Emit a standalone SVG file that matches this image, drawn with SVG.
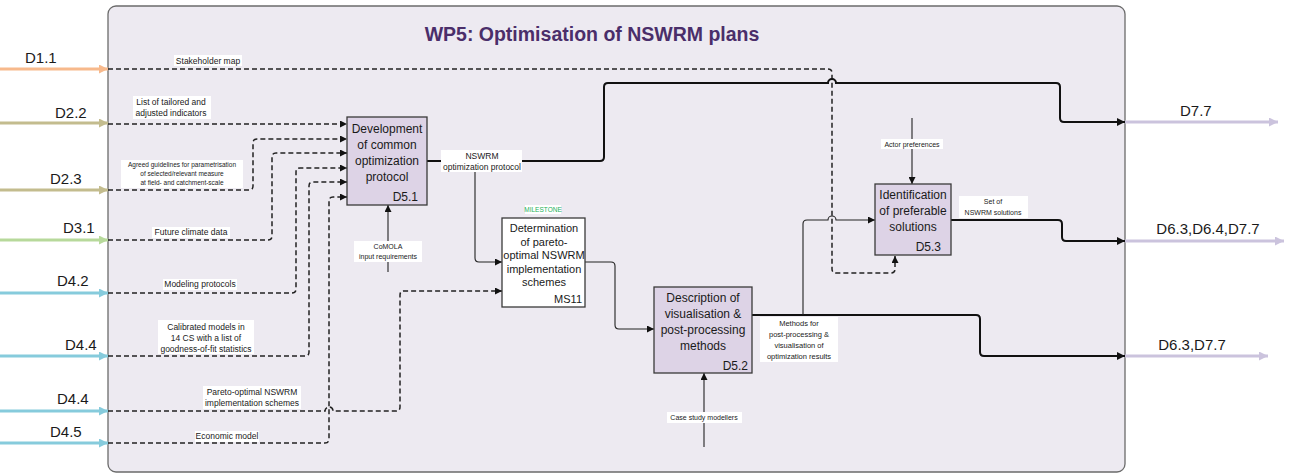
<svg xmlns="http://www.w3.org/2000/svg" width="1290" height="474" viewBox="0 0 1290 474">
  <style>
    .frame { fill: #edeaf1; stroke: #6b6b6b; stroke-width: 1.3; }
    .title { font-family: "Liberation Sans", Arial, sans-serif; font-weight: bold; font-size: 19.5px; fill: #4a2e6a; }
    .task { fill: #ddd3e6; stroke: #3a3a3a; stroke-width: 1.3; }
    .ms { fill: #ffffff; stroke: #3a3a3a; stroke-width: 1.3; }
    .bt { font-family: "Liberation Sans", Arial, sans-serif; font-size: 12px; fill: #1a1a1a; text-anchor: middle; }
    .mt { font-family: "Liberation Sans", Arial, sans-serif; font-size: 11px; fill: #1a1a1a; text-anchor: middle; }
    .id { font-family: "Liberation Sans", Arial, sans-serif; font-size: 12px; fill: #1a1a1a; text-anchor: end; }
    .dl { font-family: "Liberation Sans", Arial, sans-serif; font-size: 15px; fill: #1a1a1a; }
    .lb { font-family: "Liberation Sans", Arial, sans-serif; font-size: 8.5px; fill: #1a1a1a; text-anchor: middle; }
    .lbs { font-family: "Liberation Sans", Arial, sans-serif; font-size: 7px; fill: #1a1a1a; text-anchor: middle; }
    .lbm { font-family: "Liberation Sans", Arial, sans-serif; font-size: 7.5px; fill: #1a1a1a; text-anchor: middle; }
    .lbxs { font-family: "Liberation Sans", Arial, sans-serif; font-size: 6.5px; fill: #1a1a1a; text-anchor: middle; }
    .mile { font-family: "Liberation Sans", Arial, sans-serif; font-size: 6.5px; fill: #22b15a; text-anchor: middle; }
    .bg { fill: #ffffff; }
    .dash { fill: none; stroke: #222; stroke-width: 1.5; stroke-dasharray: 5 3; marker-end: url(#ah); }
    .flow { fill: none; stroke: #222; stroke-width: 1.1; marker-end: url(#ah); }
    .flowb { fill: none; stroke: #111; stroke-width: 2; marker-end: url(#ahb); }
    .in { fill: none; stroke-width: 3; }
  </style>
  <defs>
    <marker id="ah" viewBox="0 0 10 10" refX="10" refY="5" markerWidth="7" markerHeight="7" markerUnits="userSpaceOnUse" orient="auto">
      <path d="M0,0 L10,5 L0,10 z" fill="#111"/>
    </marker>
    <marker id="ahb" viewBox="0 0 10 10" refX="10" refY="5" markerWidth="8" markerHeight="8" markerUnits="userSpaceOnUse" orient="auto">
      <path d="M0,0 L10,5 L0,10 z" fill="#111"/>
    </marker>
    <marker id="a-peach" viewBox="0 0 10 10" refX="10" refY="5" markerWidth="11" markerHeight="9" markerUnits="userSpaceOnUse" orient="auto">
      <path d="M0,0 L10,5 L0,10 z" fill="#f7b98c"/>
    </marker>
    <marker id="a-khaki" viewBox="0 0 10 10" refX="10" refY="5" markerWidth="11" markerHeight="9" markerUnits="userSpaceOnUse" orient="auto">
      <path d="M0,0 L10,5 L0,10 z" fill="#c3bc8e"/>
    </marker>
    <marker id="a-green" viewBox="0 0 10 10" refX="10" refY="5" markerWidth="11" markerHeight="9" markerUnits="userSpaceOnUse" orient="auto">
      <path d="M0,0 L10,5 L0,10 z" fill="#b7d99b"/>
    </marker>
    <marker id="a-blue" viewBox="0 0 10 10" refX="10" refY="5" markerWidth="11" markerHeight="9" markerUnits="userSpaceOnUse" orient="auto">
      <path d="M0,0 L10,5 L0,10 z" fill="#86cbdc"/>
    </marker>
    <marker id="a-out" viewBox="0 0 10 10" refX="10" refY="5" markerWidth="11" markerHeight="9" markerUnits="userSpaceOnUse" orient="auto">
      <path d="M0,0 L10,5 L0,10 z" fill="#cbc3dd"/>
    </marker>
  </defs>

  <rect width="1290" height="474" fill="#ffffff"/>

  <!-- work package frame -->
  <g id="wp5">
    <rect class="frame" x="108" y="6" width="1017" height="466" rx="8"/>
    <text class="title" x="592" y="41" text-anchor="middle">WP5: Optimisation of NSWRM plans</text>
  </g>

  <!-- incoming deliverables -->
  <g id="inputs">
    <path class="in" d="M0,69 H108" stroke="#f7b98c" marker-end="url(#a-peach)"/>
    <path class="in" d="M0,123 H108" stroke="#c3bc8e" marker-end="url(#a-khaki)"/>
    <path class="in" d="M0,190 H108" stroke="#c3bc8e" marker-end="url(#a-khaki)"/>
    <path class="in" d="M0,240 H108" stroke="#b7d99b" marker-end="url(#a-green)"/>
    <path class="in" d="M0,293 H108" stroke="#86cbdc" marker-end="url(#a-blue)"/>
    <path class="in" d="M0,356 H108" stroke="#86cbdc" marker-end="url(#a-blue)"/>
    <path class="in" d="M0,411 H108" stroke="#86cbdc" marker-end="url(#a-blue)"/>
    <path class="in" d="M0,443 H108" stroke="#86cbdc" marker-end="url(#a-blue)"/>
    <text class="dl" x="25" y="63">D1.1</text>
    <text class="dl" x="55" y="118">D2.2</text>
    <text class="dl" x="50" y="184">D2.3</text>
    <text class="dl" x="63" y="233">D3.1</text>
    <text class="dl" x="57" y="286">D4.2</text>
    <text class="dl" x="65" y="350">D4.4</text>
    <text class="dl" x="57" y="404">D4.4</text>
    <text class="dl" x="50" y="437">D4.5</text>
  </g>

  <!-- outgoing deliverables -->
  <g id="outputs">
    <path class="in" d="M1125,122 H1278" stroke="#cbc3dd" marker-end="url(#a-out)"/>
    <path class="in" d="M1125,241 H1284" stroke="#cbc3dd" marker-end="url(#a-out)"/>
    <path class="in" d="M1125,356 H1268" stroke="#cbc3dd" marker-end="url(#a-out)"/>
    <text class="dl" x="1180" y="116">D7.7</text>
    <text class="dl" x="1208" y="234" text-anchor="middle">D6.3,D6.4,D7.7</text>
    <text class="dl" x="1192" y="350" text-anchor="middle">D6.3,D7.7</text>
  </g>

  <!-- connectors -->
  <g id="connectors">
    <!-- dashed inputs -->
    <path class="dash" d="M108,69 H828 Q832,69 832,73 V269 Q832,273 836,273 H891 Q895,273 895,269 V256"/>
    <path class="dash" d="M108,124 H347"/>
    <path class="dash" d="M108,190 H249 Q253,190 253,186 V143 Q253,139 257,139 H347"/>
    <path class="dash" d="M108,240 H268 Q272,240 272,236 V157 Q272,153 276,153 H347"/>
    <path class="dash" d="M108,293 H292 Q296,293 296,289 V172 Q296,168 300,168 H347"/>
    <path class="dash" d="M108,356 H305 Q309,356 309,352 V186 Q309,182 313,182 H347"/>
    <path class="dash" d="M108,443 H325 Q329,443 329,439 V201 Q329,197 333,197 H347"/>
    <path class="dash" d="M108,411 H325 A4,4 0 0 1 333,411 H396 Q400,411 400,407 V295 Q400,291 404,291 H502"/>

    <!-- D5.1 outputs -->
    <path class="flowb" d="M427,161 H600 Q604,161 604,157 V87 Q604,83 608,83 H828 A4,4 0 0 1 836,83 H1056 Q1060,83 1060,87 V118 Q1060,122 1064,122 H1125"/>
    <path class="flow" d="M475,161 V258 Q475,262 479,262 H502"/>

    <!-- MS11 to D5.2 -->
    <path class="flow" d="M585,262 H611 Q615,262 615,266 V325 Q615,329 619,329 H654"/>

    <!-- D5.2 outputs -->
    <path class="flowb" d="M752,315 H976 Q980,315 980,319 V352 Q980,356 984,356 H1125"/>
    <path class="flow" d="M803,315 V224 Q803,220 807,220 H828 A4,4 0 0 1 836,220 H875"/>

    <!-- D5.3 output -->
    <path class="flowb" d="M951,220 H1058 Q1062,220 1062,224 V237 Q1062,241 1066,241 H1125"/>

    <!-- controls / mechanisms -->
    <path class="flow" d="M912,118 V184"/>
    <path class="flow" d="M388,272 V205"/>
    <path class="flow" d="M704,447 V373"/>
  </g>

  <!-- connector labels -->
  <g id="labels">
    <rect class="bg" x="174" y="55" width="68" height="11"/>
    <text class="lb" x="208" y="64">Stakeholder map</text>

    <rect class="bg" x="133" y="96" width="78" height="23"/>
    <text class="lb" x="171" y="105">List of tailored and</text>
    <text class="lb" x="171" y="116">adjusted indicators</text>

    <rect class="bg" x="121" y="160" width="122" height="28"/>
    <text class="lbxs" x="182" y="167">Agreed guidelines for parametrisation</text>
    <text class="lbxs" x="182" y="176">of selected/relevant measure</text>
    <text class="lbxs" x="182" y="185">at field- and catchment-scale</text>

    <rect class="bg" x="152" y="227" width="78" height="11"/>
    <text class="lb" x="191" y="235">Future climate data</text>

    <rect class="bg" x="163" y="279" width="74" height="11"/>
    <text class="lb" x="200" y="287">Modeling protocols</text>

    <rect class="bg" x="158" y="320" width="96" height="34"/>
    <text class="lb" x="206" y="330">Calibrated models in</text>
    <text class="lb" x="206" y="341">14 CS with a list of</text>
    <text class="lb" x="206" y="352">goodness-of-fit statistics</text>

    <rect class="bg" x="203" y="386" width="98" height="23"/>
    <text class="lb" x="252" y="395">Pareto-optimal NSWRM</text>
    <text class="lb" x="252" y="406">implementation schemes</text>

    <rect class="bg" x="195" y="431" width="64" height="11"/>
    <text class="lb" x="227" y="439">Economic model</text>

    <rect class="bg" x="441" y="150" width="81" height="22"/>
    <text class="lb" x="482" y="159">NSWRM</text>
    <text class="lb" x="482" y="170">optimization protocol</text>

    <rect class="bg" x="354" y="241" width="68" height="21"/>
    <text class="lbs" x="388" y="249">CoMOLA</text>
    <text class="lbs" x="388" y="259">input requirements</text>

    <rect class="bg" x="881" y="139" width="62" height="10"/>
    <text class="lbs" x="912" y="146.5">Actor preferences</text>

    <rect class="bg" x="959" y="196" width="69" height="22"/>
    <text class="lbs" x="993" y="204">Set of</text>
    <text class="lbs" x="993" y="215">NSWRM solutions</text>

    <rect class="bg" x="760" y="317" width="78" height="45"/>
    <text class="lbm" x="799" y="326">Methods for</text>
    <text class="lbm" x="799" y="337">post-processing &amp;</text>
    <text class="lbm" x="799" y="348">visualisation of</text>
    <text class="lbm" x="799" y="359">optimization results</text>

    <rect class="bg" x="667" y="412" width="75" height="11"/>
    <text class="lbs" x="704" y="420">Case study modellers</text>
  </g>

  <!-- tasks -->
  <g id="d51">
    <rect class="task" x="347" y="117" width="80" height="88"/>
    <text class="bt" x="387" y="133">Development</text>
    <text class="bt" x="387" y="149">of common</text>
    <text class="bt" x="387" y="165">optimization</text>
    <text class="bt" x="387" y="181">protocol</text>
    <text class="id" x="418" y="201">D5.1</text>
  </g>

  <g id="ms11">
    <rect class="bg" x="525" y="205" width="36" height="9"/>
    <text class="mile" x="543" y="212">MILESTONE</text>
    <rect class="ms" x="502" y="218" width="83" height="89"/>
    <text class="mt" x="544" y="232">Determination</text>
    <text class="mt" x="544" y="245.5">of pareto-</text>
    <text class="mt" x="544" y="259">optimal NSWRM</text>
    <text class="mt" x="544" y="272.5">implementation</text>
    <text class="mt" x="544" y="286">schemes</text>
    <text class="id" x="582" y="303" style="font-size:11px">MS11</text>
  </g>

  <g id="d52">
    <rect class="task" x="654" y="287" width="98" height="86"/>
    <text class="bt" x="703" y="302">Description of</text>
    <text class="bt" x="703" y="318">visualisation &amp;</text>
    <text class="bt" x="703" y="334">post-processing</text>
    <text class="bt" x="703" y="350">methods</text>
    <text class="id" x="748" y="370">D5.2</text>
  </g>

  <g id="d53">
    <rect class="task" x="875" y="184" width="76" height="71"/>
    <text class="bt" x="913" y="199">Identification</text>
    <text class="bt" x="913" y="215">of preferable</text>
    <text class="bt" x="913" y="231">solutions</text>
    <text class="id" x="941" y="251">D5.3</text>
  </g>
</svg>
